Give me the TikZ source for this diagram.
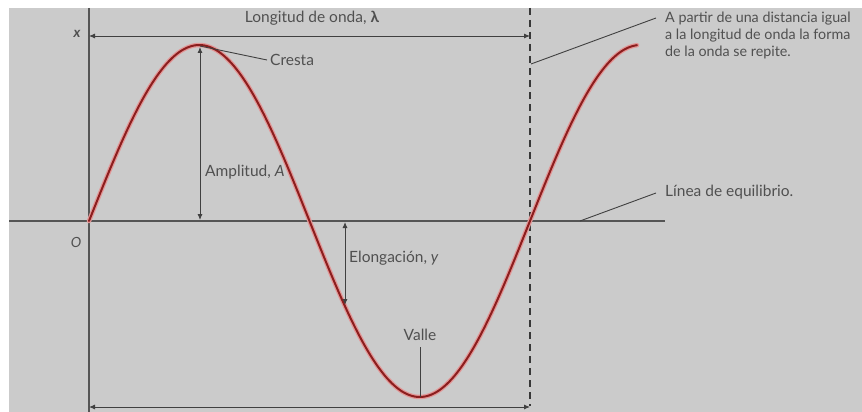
\documentclass[tikz,border=0pt]{standalone}
\usepackage{fontspec}
\setmainfont{Lato}
\usetikzlibrary{arrows.meta}
\definecolor{bg}{RGB}{203,203,203}
\definecolor{ink}{RGB}{80,80,80}
\definecolor{axisc}{RGB}{85,85,85}
\definecolor{wavec}{RGB}{140,30,30}
\definecolor{haloc}{RGB}{226,150,150}
\tikzset{
  lbl/.style={text=ink, font=\fontsize{15.5}{17}\selectfont, inner sep=0pt},
  leader/.style={draw=ink!80!black, line width=0.9pt},
  dim/.style={draw=ink!80!black, line width=0.9pt, {Latex[length=6pt,width=5pt]}-{Latex[length=6pt,width=5pt]}},
  axisline/.style={draw=axisc, line width=1.5pt},
  dashline/.style={draw=ink!70!black, line width=1.2pt, dash pattern=on 7pt off 5pt},
}
\begin{document}
\begin{tikzpicture}[x=1pt,y=-1pt]
\useasboundingbox (0,0) rectangle (862,412);
\fill[white] (0,0) rectangle (862,412);
\fill[bg] (9,8) rectangle (862,412);
% axes
\coordinate (vt) at (89,8);
\coordinate (vb) at (89,412);
\coordinate (hl) at (9,221);
\coordinate (hr) at (665,221);
\draw[axisline] (vt) -- (vb);
\draw[axisline] (hl) -- (hr);
% dashed line
\coordinate (dt) at (530,8);
\coordinate (db) at (530,406);
\draw[dashline] (dt) -- (db);
% wave
\draw[haloc, line width=4.5pt, line cap=round] plot[domain=0:548, samples=220, smooth] ({\x+89}, {221-176*sin(0.816327*\x)});
\draw[wavec, line width=2pt, line cap=round] plot[domain=0:548, samples=220, smooth] ({\x+89}, {221-176*sin(0.816327*\x)});
% wavelength arrows
\coordinate (ta) at (89,36);
\coordinate (tb) at (530,36);
\draw[dim] (ta) -- (tb);
\coordinate (ba) at (89,407);
\coordinate (bb) at (530,407);
\draw[dim] (ba) -- (bb);
\node[lbl] (lambda) at (312,18) {Longitud de onda, \textbf{λ}};
% labels axes
\node[lbl, font=\fontsize{14}{14}\selectfont\bfseries\itshape] (xl) at (77,34) {x};
\node[lbl, font=\fontsize{14}{14}\selectfont\itshape] (ol) at (76,242) {O};
% crest
\coordinate (crest) at (200,46);
\node[lbl, anchor=west] (cresta) at (270,60) {Cresta};
\draw[leader] (crest) -- ([xshift=-3pt]cresta.west);
% amplitude
\coordinate (ampt) at (200,47);
\coordinate (ampb) at (200,220);
\draw[dim] (ampt) -- (ampb);
\node[lbl, anchor=west] (amp) at (205,172) {Amplitud, \textit{A}};
% elongation
\coordinate (elt) at (345,222);
\coordinate (elb) at (345,305);
\draw[dim] (elt) -- (elb);
\node[lbl, anchor=west] (elong) at (349,258) {Elongación, \textit{y}};
% valley
\coordinate (valley) at (420,397);
\node[lbl] (valle) at (420,335) {Valle};
\coordinate (vtop) at (420,347);
\draw[leader] (vtop) -- (valley);
% repeat note
\coordinate (rp) at (531,64);
\node[lbl, font=\fontsize{14.3}{17}\selectfont, anchor=north west, align=left] (rep) at (665,12) {A partir de una distancia igual\\a la longitud de onda la forma\\de la onda se repite.};
\coordinate (rpe) at (656,18);
\draw[leader] (rp) -- (rpe);
% equilibrium note
\coordinate (eq) at (580,221);
\node[lbl, anchor=west] (equil) at (665,192) {Línea de equilibrio.};
\coordinate (eqe) at (656,193);
\draw[leader] (eq) -- (eqe);
\end{tikzpicture}
\end{document}
